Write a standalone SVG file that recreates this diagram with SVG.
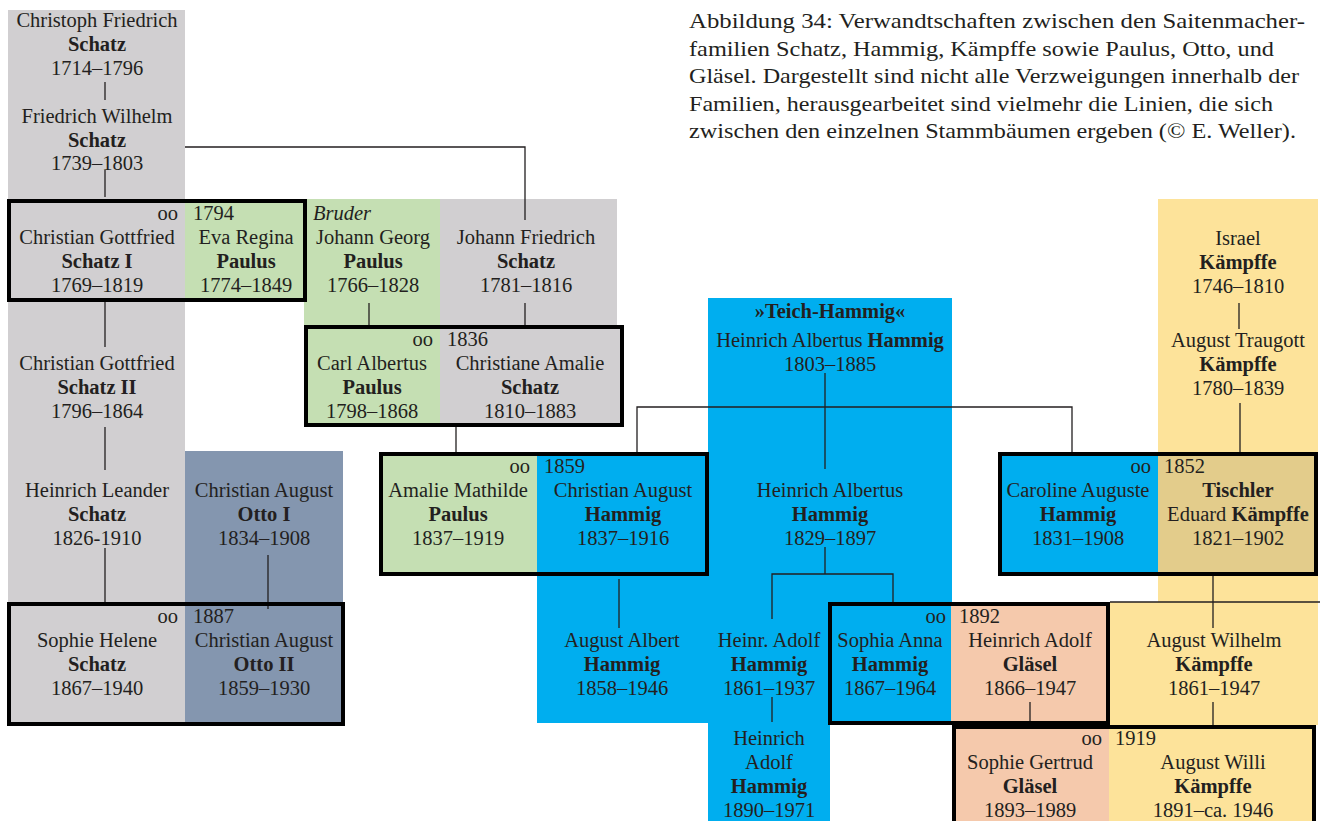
<svg xmlns="http://www.w3.org/2000/svg" width="1320" height="821" viewBox="0 0 1320 821">
<style>
.t{font-family:"Liberation Serif","Times New Roman",serif;font-size:20.5px;fill:#231F20;text-anchor:middle}
.b{font-weight:bold}
.i{font-style:italic}
.l{text-anchor:start}
.r{text-anchor:end}
.cap{font-family:"Liberation Serif","Times New Roman",serif;font-size:22px;fill:#231F20}
.box{fill:none;stroke:#000;stroke-width:4}
.ln{fill:none;stroke:#231F20;stroke-width:1.3}
.gy{fill:#D1CFD1}.gr{fill:#C5DFB3}.bl{fill:#00AEEF}.sl{fill:#8496AF}.ye{fill:#FDE39A}.tn{fill:#E3CC8B}.pe{fill:#F5C9AC}
</style>
<rect width="1320" height="821" fill="#fff"/>
<g id="caption" class="cap">
<text x="689" y="28" textLength="616" lengthAdjust="spacingAndGlyphs">Abbildung 34: Verwandtschaften zwischen den Saitenmacher-</text>
<text x="689" y="55.5" textLength="585" lengthAdjust="spacingAndGlyphs">familien Schatz, Hammig, Kämpffe sowie Paulus, Otto, und</text>
<text x="689" y="83" textLength="610" lengthAdjust="spacingAndGlyphs">Gläsel. Dargestellt sind nicht alle Verzweigungen innerhalb der</text>
<text x="689" y="110.5" textLength="584" lengthAdjust="spacingAndGlyphs">Familien, herausgearbeitet sind vielmehr die Linien, die sich</text>
<text x="689" y="138" textLength="607" lengthAdjust="spacingAndGlyphs">zwischen den einzelnen Stammbäumen ergeben (© E. Weller).</text>
</g>
<g id="backgrounds">
<rect class="gy" x="8" y="10" width="177" height="716"/>
<rect class="sl" x="185" y="451" width="158" height="275"/>
<rect class="gr" x="185" y="199" width="122" height="103"/>
<rect class="gr" x="304" y="199" width="136" height="228"/>
<rect class="gy" x="440" y="199" width="177" height="128"/>
<rect class="gy" x="440" y="325" width="184" height="102"/>
<rect class="gr" x="379" y="452" width="158" height="124"/>
<rect class="bl" x="537" y="452" width="172" height="271"/>
<rect class="bl" x="708" y="298" width="244" height="304"/>
<rect class="bl" x="708" y="602" width="122" height="219"/>
<rect class="bl" x="830" y="602" width="121" height="123"/>
<rect class="ye" x="1158" y="199" width="160" height="403"/>
<rect class="bl" x="998" y="452" width="160" height="124"/>
<rect class="tn" x="1158" y="452" width="160" height="124"/>
<rect class="ye" x="1110" y="602" width="208" height="123"/>
<rect class="pe" x="951" y="602" width="159" height="123"/>
<rect class="pe" x="952" y="725" width="157" height="96"/>
<rect class="ye" x="1109" y="725" width="207" height="96"/>
</g>
<g id="connectors" class="ln">
<line x1="105" y1="82" x2="105" y2="100"/>
<line x1="105" y1="170" x2="105" y2="197"/>
<path d="M185,147 H525 V220"/>
<line x1="105" y1="302" x2="105" y2="347"/>
<line x1="105" y1="427" x2="105" y2="470"/>
<line x1="105" y1="548" x2="105" y2="602"/>
<line x1="268" y1="555" x2="268" y2="609"/>
<line x1="369" y1="303" x2="369" y2="325"/>
<line x1="525" y1="303" x2="525" y2="325"/>
<line x1="456" y1="427" x2="456" y2="452"/>
<line x1="825" y1="373" x2="825" y2="469"/>
<path d="M637,452 V407 H1072 V452"/>
<path d="M825,547 V574"/>
<path d="M772,619 V574 H893 V602"/>
<line x1="1239" y1="303" x2="1239" y2="329"/>
<line x1="1240" y1="403" x2="1240" y2="452"/>
<line x1="1213" y1="576" x2="1213" y2="628"/>
<line x1="1110" y1="602" x2="1320" y2="602"/>
<line x1="619" y1="579" x2="619" y2="628"/>
<line x1="772" y1="697" x2="772" y2="722"/>
<line x1="1030" y1="702" x2="1030" y2="725"/>
<line x1="1213" y1="702" x2="1213" y2="725"/>
</g>
<g id="n-christoph-friedrich" class="t">
<text x="97" y="27">Christoph Friedrich</text><text x="97" y="51" class="b">Schatz</text><text x="97" y="75">1714–1796</text>
</g>
<g id="n-friedrich-wilhelm" class="t">
<text x="97" y="123">Friedrich Wilhelm</text><text x="97" y="147" class="b">Schatz</text><text x="97" y="170">1739–1803</text>
</g>
<g id="m-1794" class="t">
<text x="178" y="220" class="r">oo</text><text x="193" y="220" class="l">1794</text>
<g id="n-christian-gottfried-1"><text x="97" y="244">Christian Gottfried</text><text x="97" y="268" class="b">Schatz I</text><text x="97" y="292">1769–1819</text></g>
<g id="n-eva-regina"><text x="246" y="244">Eva Regina</text><text x="246" y="268" class="b">Paulus</text><text x="246" y="292">1774–1849</text></g>
<rect class="box" x="9" y="201" width="296" height="99"/>
</g>
<g id="n-johann-georg" class="t">
<text x="313" y="220" class="l i">Bruder</text>
<text x="373" y="244">Johann Georg</text><text x="373" y="268" class="b">Paulus</text><text x="373" y="292">1766–1828</text>
</g>
<g id="n-johann-friedrich" class="t">
<text x="526" y="244">Johann Friedrich</text><text x="526" y="268" class="b">Schatz</text><text x="526" y="292">1781–1816</text>
</g>
<g id="m-1836" class="t">
<text x="433" y="346" class="r">oo</text><text x="447" y="346" class="l">1836</text>
<g id="n-carl-albertus"><text x="372" y="370">Carl Albertus</text><text x="372" y="394" class="b">Paulus</text><text x="372" y="418">1798–1868</text></g>
<g id="n-christiane-amalie"><text x="530" y="370">Christiane Amalie</text><text x="530" y="394" class="b">Schatz</text><text x="530" y="418">1810–1883</text></g>
<rect class="box" x="306" y="327" width="316" height="98"/>
</g>
<g id="n-christian-gottfried-2" class="t">
<text x="97" y="370">Christian Gottfried</text><text x="97" y="394" class="b">Schatz II</text><text x="97" y="418">1796–1864</text>
</g>
<g id="n-heinrich-leander" class="t">
<text x="97" y="497">Heinrich Leander</text><text x="97" y="521" class="b">Schatz</text><text x="97" y="545">1826-1910</text>
</g>
<g id="n-otto-1" class="t">
<text x="264" y="497">Christian August</text><text x="264" y="521" class="b">Otto I</text><text x="264" y="545">1834–1908</text>
</g>
<g id="m-1887" class="t">
<text x="178" y="623" class="r">oo</text><text x="193" y="623" class="l">1887</text>
<g id="n-sophie-helene"><text x="97" y="647">Sophie Helene</text><text x="97" y="671" class="b">Schatz</text><text x="97" y="695">1867–1940</text></g>
<g id="n-otto-2"><text x="264" y="647">Christian August</text><text x="264" y="671" class="b">Otto II</text><text x="264" y="695">1859–1930</text></g>
<rect class="box" x="9" y="604" width="334" height="120"/>
</g>
<g id="m-1859" class="t">
<text x="530" y="473" class="r">oo</text><text x="544" y="473" class="l">1859</text>
<g id="n-amalie-mathilde"><text x="458" y="497">Amalie Mathilde</text><text x="458" y="521" class="b">Paulus</text><text x="458" y="545">1837–1919</text></g>
<g id="n-christian-august-hammig"><text x="623" y="497">Christian August</text><text x="623" y="521" class="b">Hammig</text><text x="623" y="545">1837–1916</text></g>
<rect class="box" x="381" y="454" width="326" height="120"/>
</g>
<g id="n-heinrich-albertus-1" class="t">
<text x="830" y="318" class="b">»Teich-Hammig«</text>
<text x="830" y="347">Heinrich Albertus <tspan class="b">Hammig</tspan></text>
<text x="830" y="371">1803–1885</text>
</g>
<g id="n-heinrich-albertus-2" class="t">
<text x="830" y="497">Heinrich Albertus</text><text x="830" y="521" class="b">Hammig</text><text x="830" y="545">1829–1897</text>
</g>
<g id="n-israel" class="t">
<text x="1238" y="245">Israel</text><text x="1238" y="269" class="b">Kämpffe</text><text x="1238" y="293">1746–1810</text>
</g>
<g id="n-august-traugott" class="t">
<text x="1238" y="347">August Traugott</text><text x="1238" y="371" class="b">Kämpffe</text><text x="1238" y="395">1780–1839</text>
</g>
<g id="m-1852" class="t">
<text x="1151" y="473" class="r">oo</text><text x="1164" y="473" class="l">1852</text>
<g id="n-caroline-auguste"><text x="1078" y="497">Caroline Auguste</text><text x="1078" y="521" class="b">Hammig</text><text x="1078" y="545">1831–1908</text></g>
<g id="n-eduard"><text x="1238" y="497" class="b">Tischler</text><text x="1238" y="521">Eduard <tspan class="b">Kämpffe</tspan></text><text x="1238" y="545">1821–1902</text></g>
<rect class="box" x="1000" y="454" width="316" height="120"/>
</g>
<g id="n-august-albert" class="t">
<text x="622" y="647">August Albert</text><text x="622" y="671" class="b">Hammig</text><text x="622" y="695">1858–1946</text>
</g>
<g id="n-heinr-adolf" class="t">
<text x="769" y="647">Heinr. Adolf</text><text x="769" y="671" class="b">Hammig</text><text x="769" y="695">1861–1937</text>
</g>
<g id="m-1892" class="t">
<text x="946" y="623" class="r">oo</text><text x="959" y="623" class="l">1892</text>
<g id="n-sophia-anna"><text x="890" y="647">Sophia Anna</text><text x="890" y="671" class="b">Hammig</text><text x="890" y="695">1867–1964</text></g>
<g id="n-heinrich-adolf-glaesel"><text x="1030" y="647">Heinrich Adolf</text><text x="1030" y="671" class="b">Gläsel</text><text x="1030" y="695">1866–1947</text></g>
<rect class="box" x="830" y="604" width="278" height="119"/>
</g>
<g id="n-august-wilhelm" class="t">
<text x="1214" y="647">August Wilhelm</text><text x="1214" y="671" class="b">Kämpffe</text><text x="1214" y="695">1861–1947</text>
</g>
<g id="n-heinrich-adolf-hammig" class="t">
<text x="769" y="745">Heinrich</text><text x="769" y="769">Adolf</text><text x="769" y="793" class="b">Hammig</text><text x="769" y="817">1890–1971</text>
</g>
<g id="m-1919" class="t">
<text x="1102" y="745" class="r">oo</text><text x="1115" y="745" class="l">1919</text>
<g id="n-sophie-gertrud"><text x="1030" y="769">Sophie Gertrud</text><text x="1030" y="793" class="b">Gläsel</text><text x="1030" y="817">1893–1989</text></g>
<g id="n-august-willi"><text x="1213" y="769">August Willi</text><text x="1213" y="793" class="b">Kämpffe</text><text x="1213" y="817">1891–ca. 1946</text></g>
<rect class="box" x="954" y="727" width="360" height="110"/>
</g>
</svg>
